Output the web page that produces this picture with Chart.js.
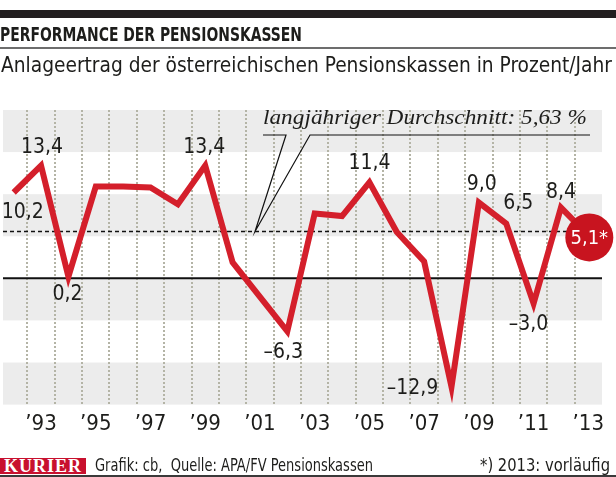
<!DOCTYPE html>
<html lang="de">
<head>
<meta charset="UTF-8">
<title>Performance der Pensionskassen</title>
<script src="https://cdn.jsdelivr.net/npm/chart.js@4.4.0/dist/chart.umd.min.js"></script>
<style>
  html, body { margin: 0; padding: 0; background: #fff; }
  body { width: 616px; height: 477px; position: relative; overflow: hidden;
         font-family: "DejaVu Sans Condensed", "Liberation Sans Narrow", "DejaVu Sans", sans-serif; color: #1d1d1b; }
  #wrap { position: absolute; left: 0; top: 0; width: 616px; height: 477px; }
  .topbar { position: absolute; left: 0; top: 10px; width: 616px; height: 8px; background: #231f20; }
  .title { position: absolute; left: 0; top: 22px; font-weight: bold; font-size: 20px; white-space: nowrap; transform-origin: 0 0; }
  .rule { position: absolute; left: 0; top: 47px; width: 616px; height: 1.5px; background: #6d6d6d; }
  .subtitle { position: absolute; left: 1px; top: 52px; font-size: 22px; white-space: nowrap; transform-origin: 0 0; }
  .note { position: absolute; left: 263px; top: 104px; font-family: "Liberation Serif", "DejaVu Serif", serif; font-style: italic;
          font-size: 22px; white-space: nowrap; transform-origin: 0 0; }
  .kurier { position: absolute; left: 0; top: 458px; width: 86px; height: 16px; background: #c8102e; color: #fff;
            font-family: "Liberation Serif", "DejaVu Serif", serif; font-weight: bold; font-size: 18px; line-height: 17px;
            letter-spacing: 1px; text-align: center; overflow: hidden; }
  .source { position: absolute; left: 95px; top: 455px; font-size: 17px; white-space: nowrap; transform-origin: 0 0; }
  .footnote { position: absolute; left: 480px; top: 455px; font-size: 17px; white-space: nowrap; transform-origin: 0 0; }
  .bottomline { position: absolute; left: 0; top: 475px; width: 616px; height: 2px; background: #3a3a3a; }
</style>
</head>
<body>
  <div id="wrap"><canvas id="chart"></canvas></div>
  <div class="topbar"></div>
  <div class="title" data-w="302">PERFORMANCE DER PENSIONSKASSEN</div>
  <div class="rule"></div>
  <div class="subtitle" data-w="611">Anlageertrag der österreichischen Pensionskassen in Prozent/Jahr</div>
  <div class="note" data-w="324">langjähriger Durchschnitt: 5,63 %</div>
  <div class="kurier">KURIER</div>
  <div class="source" data-w="278">Grafik: cb,&nbsp; Quelle: APA/FV Pensionskassen</div>
  <div class="footnote" data-w="130">*) 2013: vorläufig</div>
  <div class="bottomline"></div>

<script>
  // Jahre und Anlageertrag in Prozent
  const years = ['1992','1993','1994','1995','1996','1997','1998','1999','2000','2001','2002',
                 '2003','2004','2005','2006','2007','2008','2009','2010','2011','2012','2013'];
  const returns = [10.2, 13.4, 0.2, 10.9, 10.9, 10.8, 8.8, 13.4, 1.9, -2.2, -6.3,
                   7.7, 7.4, 11.4, 5.5, 2.0, -12.9, 9.0, 6.5, -3.0, 8.4, 5.1];
  const valueLabels = ['10,2','13,4','0,2','','','','','13,4','','','–6,3',
                       '','','11,4','','','–12,9','9,0','6,5','–3,0','8,4','5,1*'];
  const average = 5.63;
  const yMin = -15, yMax = 20, bandStep = 5;

  const RED = '#d41f2b';
  const CIRCLE = '#c8141f';
  const INK = '#1d1d1b';
  const FONT = '"DejaVu Sans Condensed", "Liberation Sans Narrow", "DejaVu Sans", sans-serif';

  // label offsets from the data point (dx, dy) in px
  const labelOffsets = {
    0: [9, 20], 1: [1, -18], 2: [-1, 18], 7: [-1, -18], 10: [-4, 21], 13: [0, -19],
    16: [-39, 2], 17: [3, -18], 18: [12, -20], 19: [-5, 21], 20: [0, -15]
  };

  const backdrop = {
    id: 'backdrop',
    beforeDraw(chart) {
      const { ctx, chartArea, scales } = chart;
      const y = scales.y;
      ctx.save();
      ctx.fillStyle = '#ececec';
      for (let v = yMin; v < yMax; v += bandStep) {
        // grey bands: -15..-10, -5..0, 5..10, 15..20
        if (((v - yMin) / bandStep) % 2 === 0) {
          const top = y.getPixelForValue(v + bandStep);
          const bot = y.getPixelForValue(v);
          ctx.fillRect(chartArea.left + 3, top, chartArea.right - chartArea.left - 3, bot - top);
        }
      }
      ctx.restore();
    },
    beforeDatasetsDraw(chart) {
      const { ctx, chartArea, scales } = chart;
      const y = scales.y, x = scales.x;
      ctx.save();
      // dotted year separators, drawn as small squares
      ctx.fillStyle = '#b4b4a6';
      for (let i = 1; i < years.length; i++) {
        const gx = Math.round((x.getPixelForValue(i - 1) + x.getPixelForValue(i)) / 2);
        for (let yy = Math.ceil(chartArea.top); yy < chartArea.bottom; yy += 4) {
          ctx.fillRect(gx - 1, yy, 2, 2);
        }
      }
      // average line
      const ya = Math.round(y.getPixelForValue(average)) + 0.5;
      ctx.strokeStyle = '#111';
      ctx.lineWidth = 1.5;
      ctx.setLineDash([4, 3]);
      ctx.beginPath();
      ctx.moveTo(chartArea.left + 3, ya);
      ctx.lineTo(chartArea.right, ya);
      ctx.stroke();
      ctx.setLineDash([]);
      // zero line
      const y0 = y.getPixelForValue(0);
      ctx.lineWidth = 2;
      ctx.beginPath();
      ctx.moveTo(chartArea.left + 3, y0);
      ctx.lineTo(chartArea.right, y0);
      ctx.stroke();
      // callout pointer to the average line
      const apexX = 255, topY = 135;
      ctx.lineWidth = 1.2;
      ctx.beginPath();
      ctx.moveTo(263, topY); ctx.lineTo(286, topY); ctx.lineTo(apexX, ya);
      ctx.lineTo(310, topY); ctx.lineTo(590, topY);
      ctx.stroke();
      ctx.restore();
    },
    afterDatasetsDraw(chart) {
      const { ctx } = chart;
      const meta = chart.getDatasetMeta(0);
      ctx.save();
      ctx.fillStyle = INK;
      ctx.font = '21px ' + FONT;
      ctx.textAlign = 'center';
      ctx.textBaseline = 'middle';
      Object.keys(labelOffsets).forEach(k => {
        const i = +k;
        const p = meta.data[i];
        ctx.fillText(valueLabels[i], p.x + labelOffsets[k][0], p.y + labelOffsets[k][1]);
      });
      // last (provisional) value in a red circle
      const last = meta.data[meta.data.length - 1];
      ctx.fillStyle = CIRCLE;
      ctx.beginPath();
      ctx.arc(last.x + 1, last.y + 2, 24, 0, Math.PI * 2);
      ctx.fill();
      ctx.fillStyle = '#fff';
      ctx.font = '20px ' + FONT;
      ctx.fillText(valueLabels[valueLabels.length - 1], last.x + 1, last.y + 3);
      ctx.restore();
    }
  };

  new Chart(document.getElementById('chart'), {
    type: 'line',
    data: {
      labels: years,
      datasets: [{
        data: returns,
        borderColor: RED,
        borderWidth: 6,
        pointRadius: 0,
        tension: 0,
        fill: false,
        clip: false
      }]
    },
    options: {
      responsive: true,
      maintainAspectRatio: false,
      animation: false,
      layout: { padding: { left: 0, right: 14, top: 110, bottom: 34 } },
      plugins: { legend: { display: false }, tooltip: { enabled: false }, title: { display: false } },
      scales: {
        x: {
          offset: true,
          grid: { display: false, drawTicks: false },
          border: { display: false },
          ticks: {
            autoSkip: false,
            maxRotation: 0,
            padding: 6,
            color: INK,
            font: { family: FONT, size: 22 },
            callback: (v, i) => (i % 2 === 1 ? '’' + years[i].slice(2) : '')
          }
        },
        y: { display: false, min: yMin, max: yMax }
      }
    },
    plugins: [backdrop]
  });

  // squeeze texts to the widths of the original layout
  document.querySelectorAll('[data-w]').forEach(el => {
    const w = el.getBoundingClientRect().width;
    el.style.transform = 'scaleX(' + (el.dataset.w / w) + ')';
  });
</script>
</body>
</html>
